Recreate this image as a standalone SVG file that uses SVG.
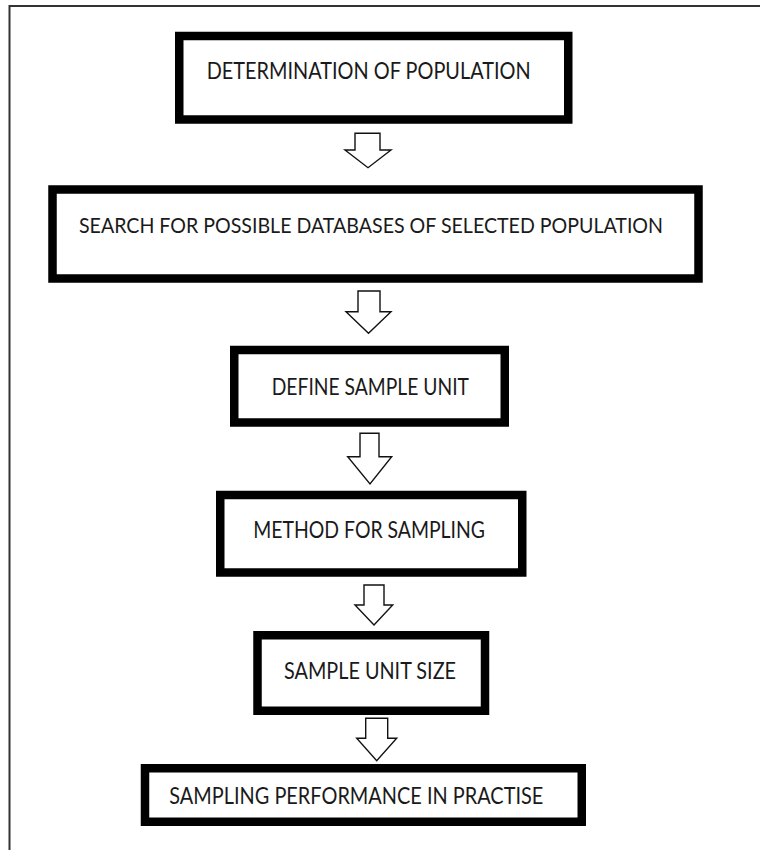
<svg xmlns="http://www.w3.org/2000/svg" width="760" height="850" viewBox="0 0 760 850">
<style>
.box{fill:#fff;stroke:#000;stroke-width:8.5}
.lbl{font-family:Lato,"Liberation Sans",sans-serif;font-size:23px;fill:#1a1a1a}
.arr{fill:#fff;stroke:#111;stroke-width:1.4;stroke-linejoin:miter}
.frame{fill:none;stroke:#333;stroke-width:2}
</style>
<rect width="760" height="850" fill="#fff"/>
<path class="frame" d="M9.5,850 V6 H760"/>
<g id="n1"><rect class="box" x="179.25" y="36" width="389" height="83.5"/><text class="lbl" x="206.7" y="79.3" textLength="324" lengthAdjust="spacingAndGlyphs">DETERMINATION OF POPULATION</text></g>
<g id="n2"><rect class="box" x="52.5" y="189.5" width="646" height="89"/><text class="lbl" x="79" y="233.3" style="font-size:21px" textLength="584" lengthAdjust="spacingAndGlyphs">SEARCH FOR POSSIBLE DATABASES OF SELECTED POPULATION</text></g>
<g id="n3"><rect class="box" x="234.25" y="350" width="270.5" height="72.5"/><text class="lbl" x="271.7" y="395" textLength="197.3" lengthAdjust="spacingAndGlyphs">DEFINE SAMPLE UNIT</text></g>
<g id="n4"><rect class="box" x="220.25" y="495" width="302" height="77.5"/><text class="lbl" x="253.3" y="538.3" textLength="231.7" lengthAdjust="spacingAndGlyphs">METHOD FOR SAMPLING</text></g>
<g id="n5"><rect class="box" x="257.5" y="635.25" width="227.5" height="75.5"/><text class="lbl" x="284" y="679" textLength="172" lengthAdjust="spacingAndGlyphs">SAMPLE UNIT SIZE</text></g>
<g id="n6"><rect class="box" x="145" y="768.25" width="436.75" height="53.5"/><text class="lbl" x="169.3" y="804" textLength="374" lengthAdjust="spacingAndGlyphs">SAMPLING PERFORMANCE IN PRACTISE</text></g>
<g id="connectors">
<path class="arr" d="M355,133.3 H380 V150 H391 L368,167.7 L345,150 H355 Z"/>
<path class="arr" d="M358,291 H380 V311.7 H391 L368.5,333.3 L346,311.7 H358 Z"/>
<path class="arr" d="M360,433.3 H379 V456.7 H391.7 L370,484 L347.7,456.7 H360 Z"/>
<path class="arr" d="M364,585 H384 V605 H392.7 L374,625 L355,605 H364 Z"/>
<path class="arr" d="M365.7,718.3 H387.7 V738.3 H396.7 L376.7,760.7 L356.7,738.3 H365.7 Z"/>
</g>
</svg>
